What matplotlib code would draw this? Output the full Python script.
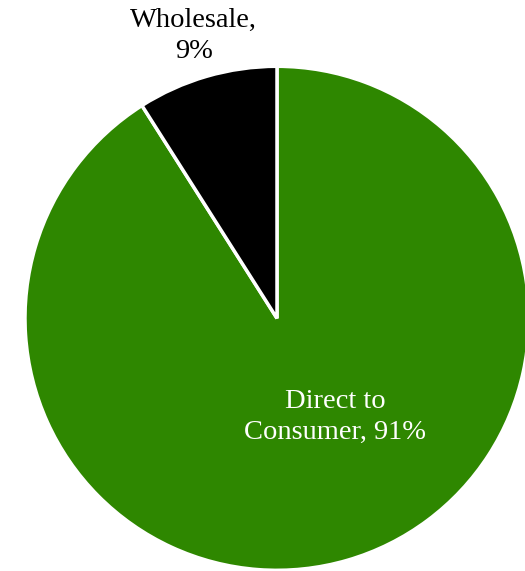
"""Revenue split by channel — pie chart."""

import matplotlib.pyplot as plt

# ── Data ─────────────────────────────────────────────────────────────
channels = ["Direct to Consumer", "Wholesale"]
shares = [91, 9]
colors = ["#2e8700", "#000000"]

plt.rcParams["font.family"] = ["Liberation Serif", "DejaVu Serif"]

fig = plt.figure(figsize=(5.25, 5.71), dpi=100)
ax = fig.add_axes([0.0476, 0.0012, 0.96, 0.8827])

wedges, _ = ax.pie(
    shares,
    colors=colors,
    startangle=90,
    counterclock=False,
    radius=1,
    wedgeprops=dict(edgecolor="white", linewidth=2.5),
)
for w in wedges:
    w.set_clip_on(False)

ax.text(-0.33, 1.12, "Wholesale,\n9%", ha="center", va="center",
        fontsize=20.5, color="black", linespacing=1.32, clip_on=False)
ax.text(0.23, -0.39, "Direct to\nConsumer, 91%", ha="center", va="center",
        fontsize=20.5, color="white", linespacing=1.32)

ax.set_xlim(-1, 1)
ax.set_ylim(-1, 1)
ax.set_aspect("equal")
ax.set_axis_off()

fig.savefig("out.png", dpi=100, facecolor="white")
